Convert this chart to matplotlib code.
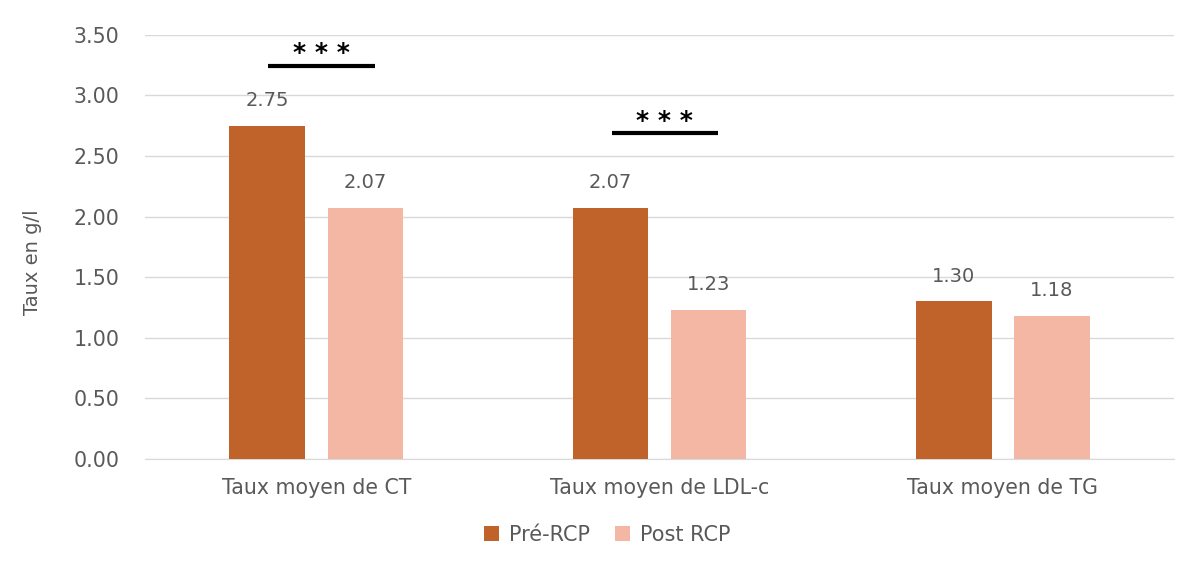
import matplotlib.pyplot as plt
import numpy as np

# Data
categories = ["Taux moyen de CT", "Taux moyen de LDL-c", "Taux moyen de TG"]
pre_rcp = [2.75, 2.07, 1.30]
post_rcp = [2.07, 1.23, 1.18]
yticks = [0.0, 0.5, 1.0, 1.5, 2.0, 2.5, 3.0, 3.5]
# significance marks: category index and height of the line
sig_groups = [0, 1]
sig_levels = [3.245, 2.69]

pre_color = "#C0632A"
post_color = "#F4B7A3"
text_color = "#595959"

plt.rcParams['font.family'] = ['DejaVu Sans']

fig = plt.figure(figsize=(11.96, 5.63), dpi=100)
ax = fig.add_axes([0.121, 0.185, 0.861, 0.753])

x = np.arange(len(categories))
w = 0.22
off = 0.143
b1 = ax.bar(x - off, pre_rcp, w, color=pre_color, label="Pré-RCP", zorder=3)
b2 = ax.bar(x + off, post_rcp, w, color=post_color, label="Post RCP", zorder=3)

for bars, vals in [(b1, pre_rcp), (b2, post_rcp)]:
    for b, v in zip(bars, vals):
        ax.text(b.get_x() + b.get_width() / 2, v + 0.13, f"{v:.2f}",
                ha="center", va="bottom", fontsize=14, color=text_color)

# significance lines and stars
for g, lvl in zip(sig_groups, sig_levels):
    x0, x1 = g - 0.14, g + 0.17
    ax.plot([x0, x1], [lvl, lvl], color="black", lw=3,
            solid_capstyle="butt", zorder=4)
    ax.text((x0 + x1) / 2, lvl + 0.045, "* * *", ha="center", va="baseline",
            fontsize=18, fontweight="bold", color="black")

ax.set_xlim(-0.5, 2.5)
ax.set_ylim(0, 3.5)
ax.set_yticks(yticks)
ax.set_yticklabels([f"{t:.2f}" for t in yticks])
ax.set_xticks(x)
ax.set_xticklabels(categories)
ax.tick_params(axis="both", length=0, labelsize=14.8, colors=text_color)
ax.tick_params(axis="y", pad=18)
ax.tick_params(axis="x", pad=14)
ax.yaxis.grid(True, color="#D9D9D9", lw=1, zorder=0)
for s in ["top", "right", "left"]:
    ax.spines[s].set_visible(False)
ax.spines["bottom"].set_color("#D9D9D9")
ax.set_ylabel("Taux en g/l", fontsize=14, color=text_color)
ax.yaxis.set_label_coords(-0.100, 0.465)

fig.legend(*ax.get_legend_handles_labels(), loc="center",
           bbox_to_anchor=(0.508, 0.05), ncol=2,
           frameon=False, fontsize=15, handlelength=0.7, handleheight=0.7,
           columnspacing=1.2, handletextpad=0.5, labelcolor=text_color)

fig.savefig("out.png", dpi=100)
